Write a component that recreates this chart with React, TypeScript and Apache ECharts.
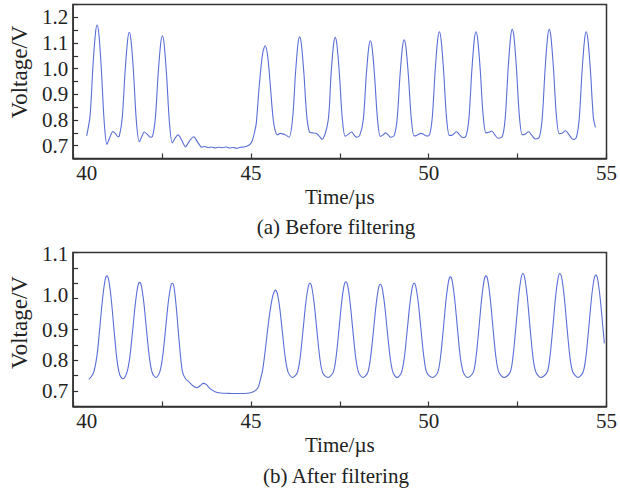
import React, { useEffect, useRef } from "react";
import * as echarts from "echarts";

const FONT = "'Liberation Serif', 'Times New Roman', serif";
const LINE_COLOR = "#5a6fd6";

const timeBefore = [40.38,40.475,40.555,40.625,40.675,40.725,40.795,40.875,40.95,41.02,41.12,41.2,41.26,41.3,41.38,41.46,41.53,41.58,41.63,41.7,41.78,41.86,41.93,42.0,42.08,42.17,42.23,42.31,42.39,42.46,42.51,42.56,42.63,42.71,42.79,42.87,42.95,43.05,43.16,43.27,43.39,43.5,43.62,43.7,43.8,43.9,44.0,44.1,44.2,44.3,44.4,44.5,44.6,44.7,44.8,44.9,44.98,45.04,45.1,45.15,45.24,45.33,45.4,45.47,45.54,45.62,45.68,45.75,45.82,45.89,45.97,46.07,46.17,46.25,46.32,46.37,46.42,46.49,46.57,46.65,46.72,46.83,46.92,47.0,47.17,47.25,47.32,47.37,47.42,47.49,47.57,47.65,47.72,47.83,47.91,47.97,48.06,48.16,48.24,48.31,48.36,48.41,48.48,48.56,48.64,48.72,48.79,48.86,48.93,49.03,49.11,49.19,49.26,49.31,49.36,49.43,49.51,49.59,49.66,49.78,49.88,49.96,50.03,50.1,50.18,50.25,50.3,50.35,50.42,50.5,50.58,50.64,50.78,50.87,50.96,51.05,51.13,51.21,51.28,51.33,51.38,51.45,51.53,51.61,51.69,51.77,51.86,51.95,52.07,52.15,52.23,52.3,52.35,52.4,52.47,52.55,52.63,52.7,52.81,52.9,53.0,53.11,53.19,53.27,53.34,53.39,53.44,53.51,53.59,53.67,53.74,53.85,53.95,54.06,54.15,54.23,54.31,54.38,54.43,54.48,54.55,54.63,54.69];
const voltageBefore = [0.738,0.816,1.006,1.135,1.17,1.133,0.993,0.789,0.705,0.728,0.755,0.745,0.735,0.738,0.808,0.987,1.109,1.142,1.108,0.98,0.792,0.715,0.735,0.753,0.745,0.733,0.736,0.804,0.978,1.096,1.128,1.095,0.97,0.786,0.711,0.73,0.742,0.722,0.696,0.718,0.735,0.714,0.694,0.697,0.692,0.695,0.691,0.694,0.692,0.695,0.691,0.693,0.69,0.694,0.695,0.699,0.706,0.72,0.752,0.787,0.943,1.06,1.089,1.05,0.943,0.81,0.76,0.742,0.748,0.746,0.742,0.733,0.803,0.975,1.093,1.124,1.094,0.981,0.816,0.752,0.75,0.748,0.737,0.725,0.796,0.971,1.09,1.122,1.091,0.975,0.805,0.737,0.742,0.753,0.74,0.733,0.74,0.801,0.966,1.079,1.109,1.079,0.967,0.802,0.736,0.742,0.75,0.742,0.733,0.74,0.801,0.968,1.082,1.112,1.082,0.97,0.805,0.738,0.74,0.748,0.742,0.737,0.745,0.81,0.989,1.111,1.144,1.111,0.989,0.81,0.74,0.74,0.754,0.742,0.731,0.738,0.805,0.987,1.111,1.144,1.112,0.994,0.819,0.75,0.752,0.757,0.742,0.729,0.736,0.805,0.992,1.119,1.153,1.12,0.996,0.815,0.743,0.744,0.754,0.74,0.726,0.733,0.803,0.991,1.119,1.153,1.12,0.998,0.818,0.747,0.748,0.758,0.742,0.724,0.731,0.8,0.984,1.11,1.144,1.11,0.99,0.81,0.771];

const timeAfter = [40.44,40.52,40.59,40.67,40.75,40.83,40.9,40.95,41.0,41.07,41.15,41.23,41.31,41.4,41.51,41.59,41.67,41.75,41.82,41.87,41.92,41.99,42.07,42.15,42.23,42.33,42.43,42.51,42.59,42.67,42.74,42.79,42.84,42.91,42.99,43.07,43.16,43.25,43.36,43.48,43.58,43.66,43.74,43.85,43.99,44.15,44.31,44.5,44.7,44.9,45.05,45.19,45.26,45.33,45.4,45.47,45.54,45.6,45.65,45.69,45.74,45.81,45.89,45.97,46.05,46.17,
  46.3,46.38,46.46,46.54,46.61,46.66,46.71,46.78,46.86,46.94,47.02,47.16,
  47.31,47.39,47.47,47.55,47.62,47.67,47.72,47.79,47.87,47.95,48.03,48.15,
  48.28,48.36,48.44,48.52,48.59,48.64,48.69,48.76,48.84,48.92,49.0,49.11,
  49.23,49.31,49.39,49.47,49.54,49.59,49.64,49.71,49.79,49.87,49.95,50.1,
  50.25,50.33,50.41,50.49,50.56,50.61,50.66,50.73,50.81,50.89,50.97,51.09,
  51.25,51.33,51.41,51.49,51.56,51.61,51.66,51.73,51.81,51.89,51.97,52.12,
  52.29,52.37,52.45,52.53,52.6,52.65,52.7,52.77,52.85,52.93,53.01,53.15,
  53.33,53.41,53.49,53.57,53.64,53.69,53.74,53.81,53.89,53.97,54.05,54.2,
  54.34,54.42,54.5,54.58,54.65,54.7,54.75,54.82,54.88,54.94];
const voltageAfter = [0.738,0.748,0.766,0.815,0.906,1.003,1.061,1.074,1.06,1.0,0.898,0.804,0.753,0.74,0.76,0.807,0.893,0.985,1.041,1.053,1.041,0.985,0.891,0.804,0.758,0.744,0.76,0.806,0.891,0.983,1.038,1.05,1.035,0.96,0.85,0.765,0.74,0.731,0.718,0.711,0.718,0.725,0.722,0.708,0.698,0.694,0.693,0.692,0.692,0.693,0.697,0.709,0.735,0.769,0.83,0.9,0.962,1.002,1.022,1.028,1.018,0.97,0.885,0.805,0.76,0.744,
  0.759,0.805,0.891,0.983,1.038,1.05,1.038,0.983,0.891,0.805,0.759,0.744,
  0.76,0.806,0.893,0.987,1.043,1.055,1.043,0.987,0.893,0.806,0.76,0.744,
  0.759,0.805,0.889,0.98,1.035,1.047,1.035,0.98,0.889,0.805,0.759,0.744,
  0.759,0.805,0.891,0.983,1.038,1.05,1.038,0.983,0.891,0.805,0.759,0.744,
  0.76,0.809,0.901,0.999,1.058,1.071,1.058,0.999,0.901,0.809,0.762,0.744,
  0.76,0.81,0.902,1.001,1.061,1.074,1.061,1.001,0.902,0.81,0.762,0.744,
  0.761,0.812,0.906,1.008,1.068,1.082,1.068,1.008,0.906,0.812,0.763,0.744,
  0.761,0.812,0.906,1.008,1.068,1.082,1.068,1.008,0.906,0.812,0.763,0.744,
  0.761,0.811,0.904,1.004,1.064,1.077,1.064,1.004,0.93,0.855];

const xTickLabels = ["40", "45", "50", "55"];
const yLabelsTop = ["0.7", "0.8", "0.9", "1.0", "1.1", "1.2"];
const yLabelsBottom = ["0.7", "0.8", "0.9", "1.0", "1.1"];
const captions = ["(a) Before filtering", "(b) After filtering"];

const zip = (t: number[], v: number[]) => t.map((x, i) => [x, v[i]]);

const baseText = { fontFamily: FONT, color: "#222" };
const TICK_FONT = 21;

function xAxisFor(gridIndex: number) {
  return {
    type: "value",
    gridIndex,
    min: 40,
    max: 55,
    interval: 2.5,
    axisLine: { show: true, lineStyle: { color: "#333", width: 1.5 } },
    axisTick: { show: true, inside: true, length: 5, lineStyle: { color: "#333", width: 1.2 } },
    splitLine: { show: false },
    axisLabel: {
      ...baseText,
      fontSize: TICK_FONT,
      margin: 4,
      showMinLabel: true,
      showMaxLabel: true,
      formatter: (v: number) => {
        const s = xTickLabels.find((l) => Math.abs(Number(l) - v) < 1e-6);
        if (!s) return "";
        return s === "40" ? "{s|" + s + "}" : s;
      },
      rich: { s: { ...baseText, fontSize: TICK_FONT, padding: [0, 0, 0, 27] } },
    },
    name: "Time/µs",
    nameLocation: "middle",
    nameGap: 28,
    nameTextStyle: { ...baseText, fontSize: 21 },
  };
}

function yAxisFor(gridIndex: number, min: number, max: number, labels: string[], shifted: boolean) {
  return {
    type: "value",
    gridIndex,
    min,
    max,
    interval: 0.05,
    axisLine: { show: true, lineStyle: { color: "#333", width: 1.5 } },
    axisTick: { show: true, inside: true, length: 5, lineStyle: { color: "#333", width: 1.2 } },
    splitLine: { show: false },
    axisLabel: {
      ...baseText,
      fontSize: TICK_FONT,
      margin: 5,
      showMinLabel: true,
      showMaxLabel: true,
      formatter: (v: number) => {
        const s = labels.find((l) => Math.abs(Number(l) - v) < 1e-6);
        if (!s) return "";
        if (shifted && s === "1.1") return "{u|" + s + "}";
        if (shifted && s === "1.0") return "{w|" + s + "}";
        return s;
      },
      rich: {
        u: { ...baseText, fontSize: TICK_FONT, padding: [0, 0, 27, 0] },
        w: { ...baseText, fontSize: TICK_FONT, padding: [0, 0, 8, 0] },
      },
    },
    name: "Voltage/V",
    nameLocation: "middle",
    nameGap: 39,
    nameTextStyle: { ...baseText, fontSize: 23, padding: [0, 0, 0, shifted ? 14 : 19] },
  };
}

export default function App() {
  const ref = useRef<HTMLDivElement>(null);
  useEffect(() => {
    if (!ref.current) return;
    const chart = echarts.init(ref.current, undefined, { renderer: "svg" });
    const gridStyle = { show: true, borderColor: "#333", borderWidth: 1.5, backgroundColor: "#fff" };
    chart.setOption({
      animation: false,
      backgroundColor: "#fff",
      grid: [
        { left: 68, right: 12, top: 4.5, height: 154, ...gridStyle },
        { left: 68, right: 12, top: 252.5, height: 154, ...gridStyle },
      ],
      xAxis: [xAxisFor(0), xAxisFor(1)],
      yAxis: [
        yAxisFor(0, 0.65, 1.25, yLabelsTop, false),
        yAxisFor(1, 0.65, 1.15, yLabelsBottom, true),
      ],
      graphic: [
        { type: "text", x: 336, y: 227, style: { text: captions[0], ...baseText, fill: "#222", fontSize: 21, textAlign: "center", textVerticalAlign: "middle" } },
        { type: "text", x: 336, y: 476, style: { text: captions[1], ...baseText, fill: "#222", fontSize: 21, textAlign: "center", textVerticalAlign: "middle" } },
      ],
      series: [
        {
          type: "line",
          xAxisIndex: 0,
          yAxisIndex: 0,
          data: zip(timeBefore, voltageBefore),
          showSymbol: false,
          smooth: 0.3,
          lineStyle: { color: LINE_COLOR, width: 1.1 },
        },
        {
          type: "line",
          xAxisIndex: 1,
          yAxisIndex: 1,
          data: zip(timeAfter, voltageAfter),
          showSymbol: false,
          smooth: 0.3,
          lineStyle: { color: LINE_COLOR, width: 1.1 },
        },
      ],
    });
    return () => chart.dispose();
  }, []);
  return <div ref={ref} style={{ position: "fixed", left: 0, top: 0, width: 620, height: 491 }} />;
}
